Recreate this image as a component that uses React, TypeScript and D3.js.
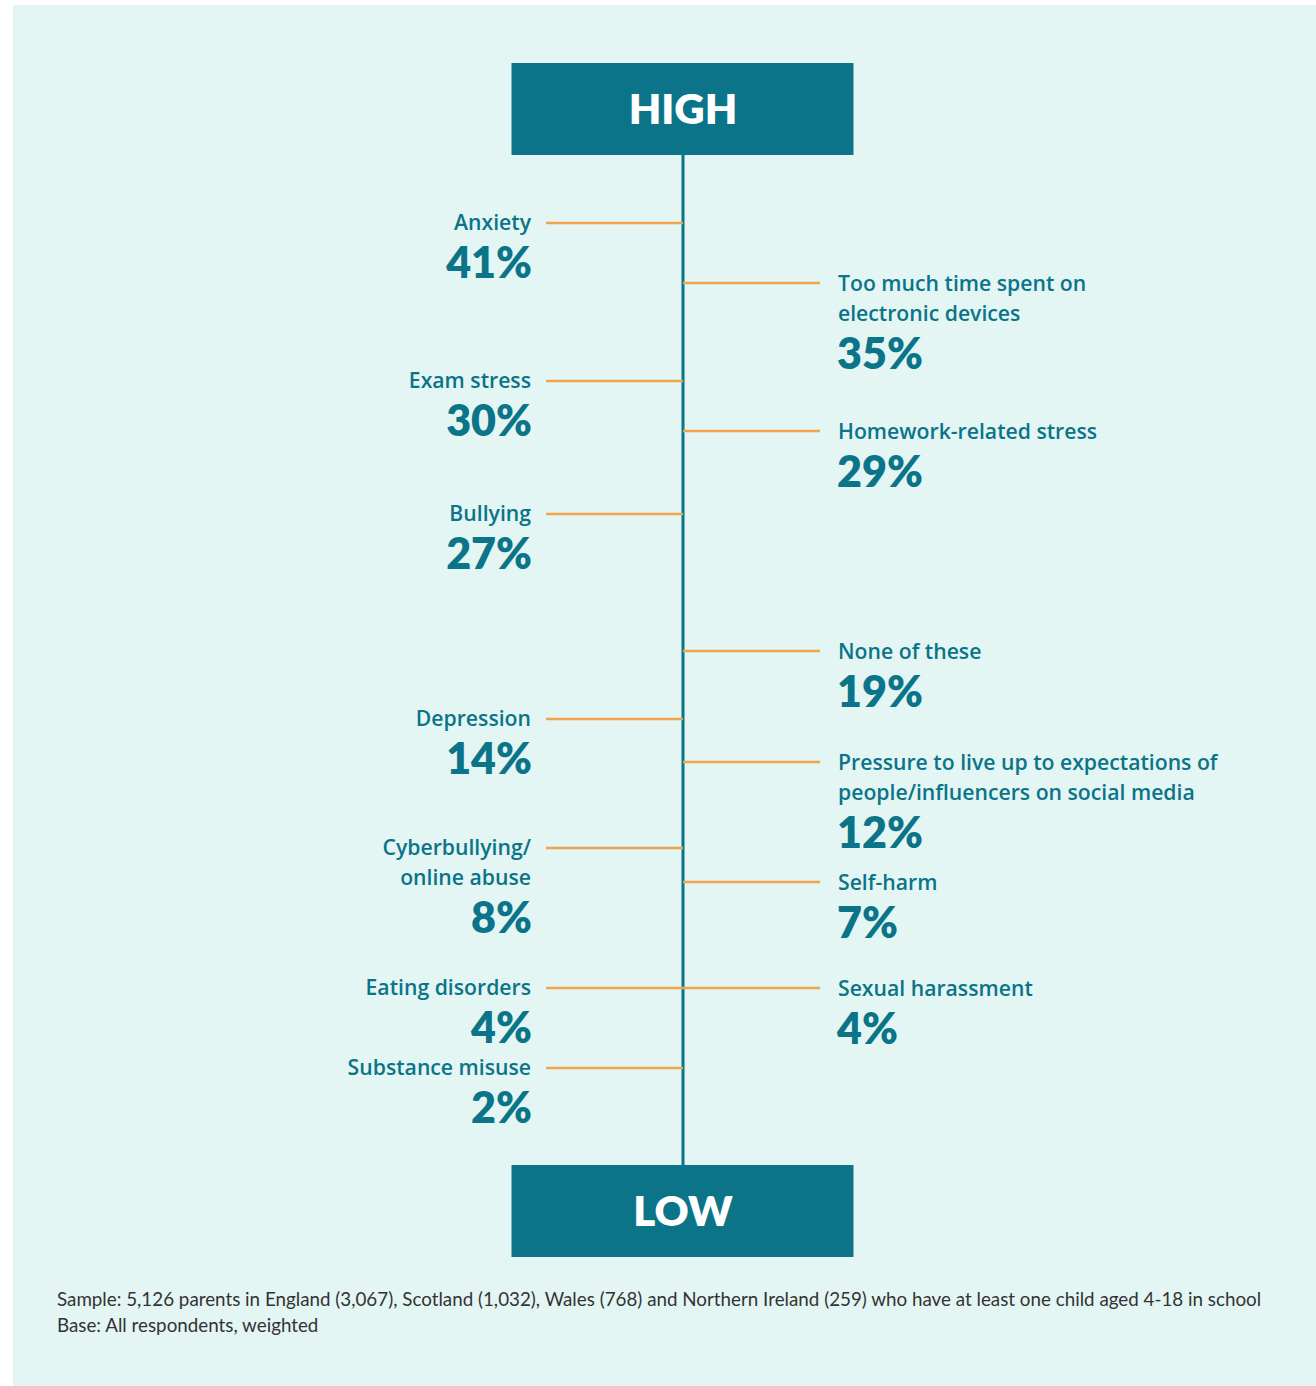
import React, { useEffect, useRef } from "react";
import * as d3 from "d3";

// ---- data ----
const categories = [
  "Anxiety",
  "Too much time spent on|electronic devices",
  "Exam stress",
  "Homework-related stress",
  "Bullying",
  "None of these",
  "Depression",
  "Pressure to live up to expectations of|people/influencers on social media",
  "Cyberbullying/|online abuse",
  "Self-harm",
  "Eating disorders",
  "Sexual harassment",
  "Substance misuse",
];
const values = [41, 35, 30, 29, 27, 19, 14, 12, 8, 7, 4, 4, 2];
const sides = ["left", "right", "left", "right", "left", "right", "left", "right", "left", "right", "left", "right", "left"];
const endLabels = ["HIGH", "LOW"];
const footnotes = [
  "Sample: 5,126 parents in England (3,067), Scotland (1,032), Wales (768) and Northern Ireland (259) who have at least one child aged 4-18 in school",
  "Base: All respondents, weighted",
];

const W = 1316;
const H = 1386;
const TEAL = "#0b7489";
const ORANGE = "#f0a54a";
const BG = "#e3f6f4";
const FONT = "Lato, 'Open Sans', sans-serif";
const LABEL_FONT = "'Open Sans', Lato, sans-serif";

export default function App() {
  const ref = useRef<SVGSVGElement>(null);

  useEffect(() => {
    const svg = d3.select(ref.current);
    svg.selectAll("*").remove();

    svg.append("rect").attr("x", 0).attr("y", 0).attr("width", W).attr("height", H).attr("fill", "#fff");
    svg.append("rect").attr("x", 13).attr("y", 5).attr("width", W - 13).attr("height", H - 5).attr("fill", BG);

    const axisX = 683;
    // hand-laid, value-ordered axis (monotonic piecewise scale from the design)
    const uniq = Array.from(new Set(values)).sort((a, b) => b - a);
    const y = d3
      .scaleLinear()
      .domain(uniq)
      .range([223, 283, 381, 431, 514, 651, 719, 762, 848, 882, 988, 1068]);

    // axis line
    svg.append("line")
      .attr("x1", axisX).attr("x2", axisX)
      .attr("y1", 150).attr("y2", 1170)
      .attr("stroke", TEAL).attr("stroke-width", 3);

    // end boxes
    const boxW = 342, boxH = 92;
    const boxes = [
      { label: endLabels[0], top: 63 },
      { label: endLabels[1], top: 1165 },
    ];
    boxes.forEach((b) => {
      svg.append("rect")
        .attr("x", axisX - boxW / 2 - 0.5).attr("y", b.top)
        .attr("width", boxW).attr("height", boxH)
        .attr("fill", TEAL);
      svg.append("text")
        .attr("x", axisX).attr("y", b.top + boxH / 2 + 15)
        .attr("text-anchor", "middle")
        .attr("font-family", FONT).attr("font-weight", 800)
        .attr("font-size", 42).attr("fill", "#fff")
        .text(b.label);
    });

    const lineLen = 137;
    const gap = 15;
    categories.forEach((cat, i) => {
      const yy = y(values[i]);
      const left = sides[i] === "left";
      const x2 = left ? axisX - lineLen : axisX + lineLen;
      svg.append("line")
        .attr("x1", axisX).attr("x2", x2)
        .attr("y1", yy).attr("y2", yy)
        .attr("stroke", ORANGE).attr("stroke-width", 2.5);

      const tx = left ? x2 - gap : x2 + gap + 3;
      const anchor = left ? "end" : "start";
      const lines = cat.split("|");
      const base = left ? yy + 7 : yy + 8;
      lines.forEach((ln, k) => {
        svg.append("text")
          .attr("x", tx).attr("y", base + k * 30)
          .attr("text-anchor", anchor)
          .attr("font-family", LABEL_FONT).attr("font-weight", 600)
          .attr("font-size", 21.2).attr("fill", TEAL)
          .text(ln);
      });
      svg.append("text")
        .attr("x", left ? tx + 1 : tx - 1).attr("y", base + (lines.length - 1) * 30 + 48)
        .attr("text-anchor", anchor)
        .attr("font-family", FONT).attr("font-weight", 800)
        .attr("font-size", 43).attr("fill", TEAL)
        .text(`${values[i]}%`);
    });

    footnotes.forEach((f, k) => {
      svg.append("text")
        .attr("x", 57).attr("y", 1306 + k * 26)
        .attr("font-family", FONT).attr("font-size", 18.8)
        .attr("fill", "#333")
        .text(f);
    });
  }, []);

  return (
    <svg
      ref={ref}
      width={W}
      height={H}
      style={{ position: "absolute", top: 0, left: 0, display: "block" }}
    />
  );
}
